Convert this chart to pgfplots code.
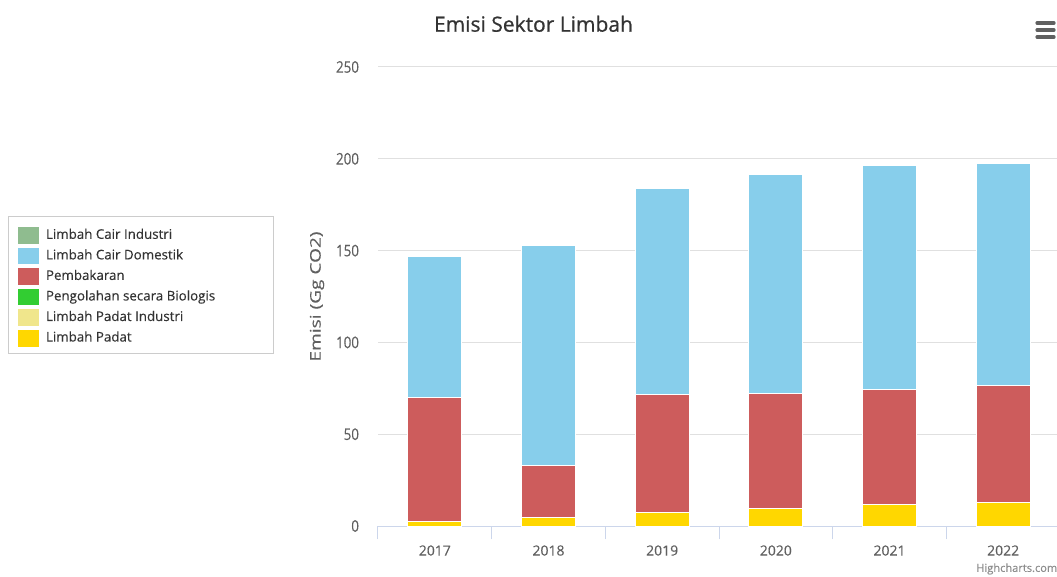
\documentclass[border=0pt]{standalone}
\usepackage{pgfplots}
\pgfplotsset{compat=1.18}
\usepackage{fontspec}
\setmainfont{Open Sans}[FakeBold=0.25]
\newfontfamily\titlefont[FakeBold=0.7]{Open Sans}
\definecolor{cInd}{HTML}{8FBC8F}
\definecolor{cDom}{HTML}{87CEEB}
\definecolor{cBak}{HTML}{CD5C5C}
\definecolor{cBio}{HTML}{32CD32}
\definecolor{cPadInd}{HTML}{F0E68C}
\definecolor{cPad}{HTML}{FFD700}
\definecolor{axcol}{HTML}{CCD6EB}
\definecolor{gridcol}{HTML}{E0E0E0}
\definecolor{txt}{HTML}{606060}
\definecolor{ttl}{HTML}{333333}
\begin{document}
\begin{tikzpicture}
\begin{axis}[
  at={(283.5pt,-394.5pt)}, anchor=south west,
  scale only axis, width=511.5pt, height=344.25pt,
  ybar stacked, bar width=0.475,
  xmin=-0.5, xmax=5.5, ymin=0, ymax=250,
  xtick={0,1,2,3,4,5},
  xticklabels={2017,2018,2019,2020,2021,2022},
  ytick={0,50,100,150,200,250},
  yticklabel={\scalebox{1}[1.2]{\pgfmathprintnumber{\tick}}},
  extra x ticks={-0.5,0.5,1.5,2.5,3.5,4.5,5.5},
  extra x tick labels={},
  extra x tick style={major tick length=10pt, tick style={draw=axcol, line width=0.75pt}, xmajorgrids=false},
  major tick length=0pt, tick align=outside,
  axis x line*=bottom, axis y line*=left,
  y axis line style={draw=none},
  x axis line style={draw=axcol, line width=0.75pt, -},
  ymajorgrids=true, xmajorgrids=false,
  grid style={draw=gridcol, line width=0.75pt},
  /pgf/number format/assume math mode=true,
  ticklabel style={text=txt},
  xticklabel style={yshift=-11pt, font=\fontsize{10.5}{12}\selectfont},
  yticklabel style={xshift=-10.75pt, font=\fontsize{10}{12}\selectfont},
  ylabel={\scalebox{1.3}[1]{Emisi (Gg CO2)}},
  ylabel style={at={(axis description cs:-0.0894,0.5)}, anchor=center, font=\fontsize{11}{13}\selectfont, text=txt},
  every axis plot/.append style={draw=white, line width=0.75pt},
  reverse legend,
  legend style={at={(axis description cs:-0.5279,0.6510)}, anchor=north west, draw=none, fill=none,
    inner sep=0pt, outer sep=0pt,
    font=\fontsize{10}{12}\selectfont, text=ttl, row sep=2.9pt, column sep=5.25pt,
    nodes={inner sep=0pt, text height=8pt, text depth=3pt}},
  legend cell align=left,
  legend image code/.code={\fill[#1, draw=none] (0pt,-6.25pt) rectangle (15.75pt,6.25pt);},
]
\addplot[fill=cPad] coordinates {(0,2.5) (1,4.8) (2,7.1) (3,9.4) (4,11.7) (5,12.6)};
\addlegendentry{Limbah Padat}
\addplot[fill=cPadInd] coordinates {(0,0) (1,0) (2,0) (3,0) (4,0) (5,0)};
\addlegendentry{Limbah Padat Industri}
\addplot[fill=cBio] coordinates {(0,0) (1,0) (2,0) (3,0) (4,0) (5,0)};
\addlegendentry{Pengolahan secara Biologis}
\addplot[fill=cBak] coordinates {(0,67.4) (1,28.1) (2,64.5) (3,63.0) (4,62.8) (5,63.8)};
\addlegendentry{Pembakaran}
\addplot[fill=cDom] coordinates {(0,76.9) (1,119.8) (2,112.2) (3,119.0) (4,121.8) (5,121.0)};
\addlegendentry{Limbah Cair Domestik}
\addplot[fill=cInd] coordinates {(0,0) (1,0) (2,0) (3,0) (4,0) (5,0)};
\addlegendentry{Limbah Cair Industri}
\end{axis}
\begin{scope}[x=0.75pt, y=-0.75pt]
  \draw[draw=black!20, line width=0.75pt] (8,217) rectangle (273,354);
  \node[anchor=base, text=ttl, font=\titlefont\fontsize{15.75}{18}\selectfont, inner sep=0pt] at (533.5,31.7) {Emisi Sektor Limbah};
  \foreach \yy in {23,30,37} \draw[line width=2.4pt, draw=txt, line cap=round] (1037,\yy) -- (1054,\yy);
  \node[anchor=east, text=black!45, font=\fontsize{8.3}{9}\selectfont, inner sep=0pt] at (1057.5,569) {Highcharts.com};
\end{scope}
\pgfresetboundingbox
\path (0,0) rectangle (792.75pt,-432.75pt);
\end{tikzpicture}
\end{document}
